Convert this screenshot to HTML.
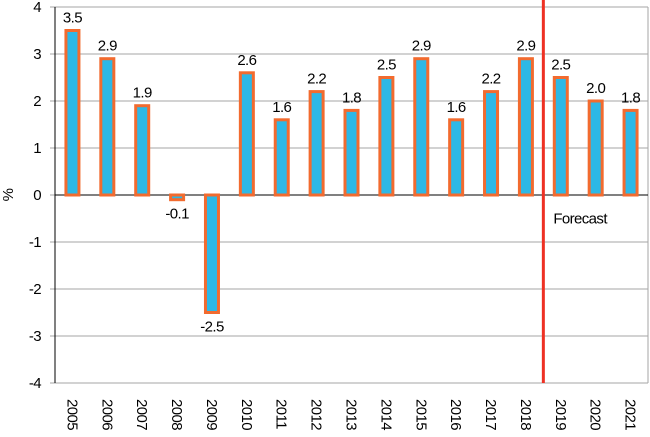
<!DOCTYPE html>
<html><head><meta charset="utf-8"><style>
body{margin:0;background:#fff}
svg text{font-family:"Liberation Sans",sans-serif;fill:#000;letter-spacing:-0.6px}
</style></head><body>
<svg id="chart" width="650" height="432" xmlns="http://www.w3.org/2000/svg"></svg>
<script>
const categories=["2005","2006","2007","2008","2009","2010","2011","2012","2013","2014","2015","2016","2017","2018","2019","2020","2021"];
const values=[3.5,2.9,1.9,-0.1,-2.5,2.6,1.6,2.2,1.8,2.5,2.9,1.6,2.2,2.9,2.5,2.0,1.8];
const labels=["3.5","2.9","1.9","-0.1","-2.5","2.6","1.6","2.2","1.8","2.5","2.9","1.6","2.2","2.9","2.5","2.0","1.8"];
const yTicks=[4,3,2,1,0,-1,-2,-3,-4];
const forecastStart=14;
const svg=document.getElementById('chart');const NS='http://www.w3.org/2000/svg';
const L=55,R=648,T=7,B=383,yMin=-4,yMax=4;
const y=v=>T+(yMax-v)/(yMax-yMin)*(B-T);
const bw=(R-L)/categories.length;
const x=i=>L+bw*(i+0.5);
function mk(t,a,txt){const e=document.createElementNS(NS,t);for(const k in a)e.setAttribute(k,a[k]);if(txt!==undefined)e.textContent=txt;svg.appendChild(e);return e;}
yTicks.forEach(v=>{
 const g=mk('line',{x1:L-5,x2:R,y1:y(v),y2:y(v),stroke:'#a6a6a6','stroke-width':1});
 
 
 const t=mk('text',{x:L-14,y:y(v)+5,'text-anchor':'end','font-size':15},String(v));
 
 
});
const rb=mk('line',{x1:R,x2:R,y1:T,y2:B,stroke:'#a6a6a6','stroke-width':1});


const ax=mk('line',{x1:L,x2:L,y1:T,y2:B,stroke:'#000','stroke-width':1});


const zl=mk('line',{x1:L,x2:R,y1:y(0),y2:y(0),stroke:'#000','stroke-width':1});


const yt=mk('text',{x:13,y:y(0),'text-anchor':'middle','font-size':15,transform:`rotate(-90 13 ${y(0)})`},'%');


categories.forEach((c,i)=>{
 const v=values[i];const top=Math.min(y(v),y(0)),h=Math.abs(y(v)-y(0));
 const b=mk('rect',{x:x(i)-6.5,y:top,width:13,height:Math.max(h,1),fill:'#2db8e6',stroke:'#f26b2f','stroke-width':3});
 
 
 const ly=v>=0?y(v)-8:y(v)+19;
 const t=mk('text',{x:x(i),y:ly,'text-anchor':'middle','font-size':15},labels[i]);
 
 
 const xl=mk('text',{x:x(i)-5,y:399,'font-size':15,transform:`rotate(90 ${x(i)-5} 399)`},c);
 
 
});
const fx=L+bw*forecastStart;
const fl=mk('line',{x1:fx,x2:fx,y1:0,y2:B,stroke:'#ee3124','stroke-width':3});


const ft=mk('text',{x:fx+10,y:y(-0.5)+5,'font-size':15},'Forecast');


</script>
</body></html>
